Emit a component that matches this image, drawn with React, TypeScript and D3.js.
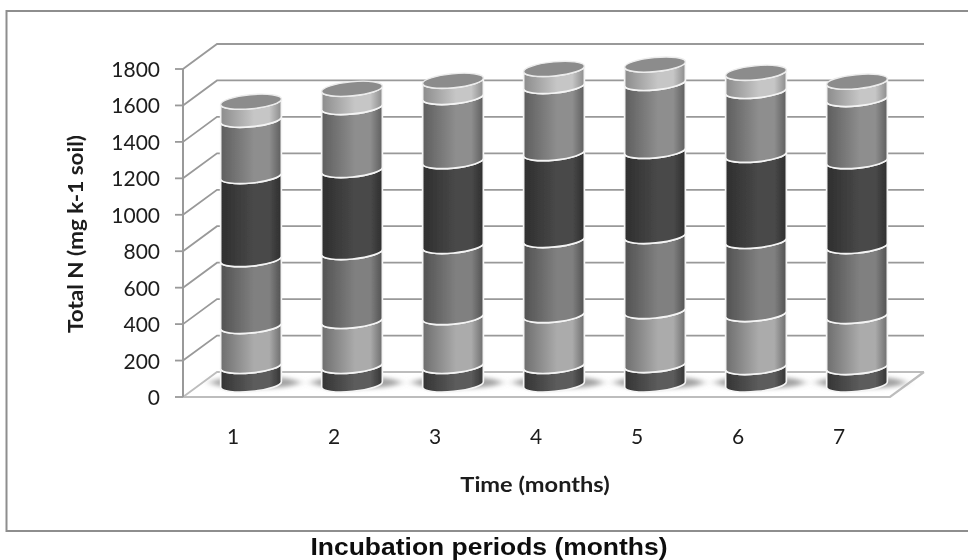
import React from "react";
import * as d3 from "d3";

const months = ["1", "2", "3", "4", "5", "6", "7"];
const yTicks = [0, 200, 400, 600, 800, 1000, 1200, 1400, 1600, 1800];
const series1 = [102, 102, 102, 102, 107, 96, 96];
const series2 = [219, 247, 268, 279, 296, 291, 280];
const series3 = [367, 378, 390, 412, 412, 401, 384];
const series4 = [456, 450, 466, 477, 467, 472, 466];
const series5 = [309, 346, 352, 368, 373, 351, 341];
const series6 = [99, 100, 89, 94, 101, 100, 95];
const seriesList = [series1, series2, series3, series4, series5, series6];
const edgeColors = ["#343434", "#6e6e6e", "#525252", "#2e2e2e", "#5e5e5e", "#8c8c8c"];
const midColors = ["#5c5c5c", "#ababab", "#808080", "#494949", "#8e8e8e", "#c6c6c6"];

const W = 968, H = 560;
const depthX = 34, depthY = 25;
const x = d3.scalePoint<string>().domain(months).range([251, 857]);
const yFront = d3.scaleLinear().domain([0, 1800]).range([397, 69]);
const yMid = d3.scaleLinear().domain([0, 1800]).range([384.5, 56.5]);
const rx = 30.5, ry = 7, tilt = -5.5;
const dx = rx * Math.cos((tilt * Math.PI) / 180);
const dy = rx * Math.sin((tilt * Math.PI) / 180);

const segPath = (cx: number, yb: number, yt: number) =>
  `M${cx - dx},${yt - dy}L${cx - dx},${yb - dy}` +
  `A${rx},${ry} ${tilt} 0 0 ${cx + dx},${yb + dy}` +
  `L${cx + dx},${yt + dy}` +
  `A${rx},${ry} ${tilt} 0 1 ${cx - dx},${yt - dy}Z`;

const stroke = "#999999";
const labelFont = "Lato, 'Open Sans', sans-serif";

function Stretched(p: { x: number; y: number; sx: number; size: number; anchor?: string; weight?: number; rotate?: number; children: React.ReactNode; font?: string; fill?: string }) {
  return (
    <text
      transform={`translate(${p.x},${p.y}) rotate(${p.rotate ?? 0}) scale(${p.sx},1)`}
      fontFamily={p.font ?? labelFont}
      fontSize={p.size}
      fontWeight={p.weight ?? 400}
      textAnchor={p.anchor ?? "middle"}
      fill={p.fill ?? "#1c1c1c"}
    >
      {p.children}
    </text>
  );
}

export default function App() {
  return (
    <svg width={W} height={H} viewBox={`0 0 ${W} ${H}`} style={{ position: "absolute", left: 0, top: 0, background: "#fff" }}>
      <defs>
        {edgeColors.map((c, i) => (
          <linearGradient id={`g${i}`} key={i} x1="0" x2="1" y1="0" y2="0">
            <stop offset="0" stopColor={c} />
            <stop offset="0.55" stopColor={midColors[i]} />
            <stop offset="0.8" stopColor={midColors[i]} />
            <stop offset="1" stopColor={c} />
          </linearGradient>
        ))}
        <filter id="soft" x="-5%" y="-5%" width="110%" height="110%">
          <feGaussianBlur stdDeviation="0.45" />
        </filter>
        <filter id="shadow" x="-40%" y="-200%" width="180%" height="500%">
          <feGaussianBlur stdDeviation="5 2.2" />
        </filter>
      </defs>
      <g filter="url(#soft)">
        <path d={`M971,11H6.5V531H971`} fill="none" stroke="#8e8e8e" strokeWidth={2} />
        {yTicks.map((t) => (
          <g key={t} stroke={t === 0 ? "#bdbdbd" : stroke} strokeWidth={1.8} fill="none">
            <path d={`M175,${yFront(t)}H183`} stroke={stroke} />
            <path d={`M183,${yFront(t)}L${183 + depthX},${yFront(t) - depthY}H${890 + depthX}`} />
          </g>
        ))}
        <path d={`M183,${yFront(0)}H890L${890 + depthX},${yFront(0) - depthY}`} fill="none" stroke="#bdbdbd" strokeWidth={2.2} />
        <path d={`M183,${yFront(0)}V${yFront(1800)}`} fill="none" stroke={stroke} strokeWidth={2} />
        {months.map((m) => (
          <ellipse key={m} cx={x(m)! + 4} cy={yMid(0) - 2} rx={44} ry={6} fill="#a2a2a2" filter="url(#shadow)" />
        ))}
        {months.map((m, i) => {
          const cx = x(m)!;
          let acc = 0;
          const segs = seriesList.map((s, k) => {
            const a = acc;
            acc += s[i];
            return (
              <path key={k} d={segPath(cx, yMid(a), yMid(acc))} fill={`url(#g${k})`} stroke="#f4f4f4" strokeWidth={1.7} strokeLinejoin="round" />
            );
          });
          return (
            <g key={m}>
              {segs}
              <ellipse cx={cx} cy={yMid(acc)} rx={rx} ry={ry} transform={`rotate(${tilt} ${cx} ${yMid(acc)})`} fill="#8c8c8c" stroke="#ececec" strokeWidth={1.4} />
            </g>
          );
        })}
        {yTicks.map((t) => (
          <Stretched key={t} x={160} y={yFront(t) + 8} sx={1} size={21} anchor="end">{t}</Stretched>
        ))}
        {months.map((m) => (
          <Stretched key={m} x={x(m)! - 18} y={444} sx={1} size={21}>{m}</Stretched>
        ))}
        <Stretched x={535} y={492} sx={1.18} size={20} weight={700}>Time (months)</Stretched>
        <Stretched x={83} y={234} sx={1.125} size={20} weight={700} rotate={-90}>Total N (mg k-1 soil)</Stretched>
        <Stretched x={489} y={555} sx={1.08} size={24.5} weight={700} font="'Liberation Sans', Arial, sans-serif" fill="#111">Incubation periods (months)</Stretched>
      </g>
    </svg>
  );
}
